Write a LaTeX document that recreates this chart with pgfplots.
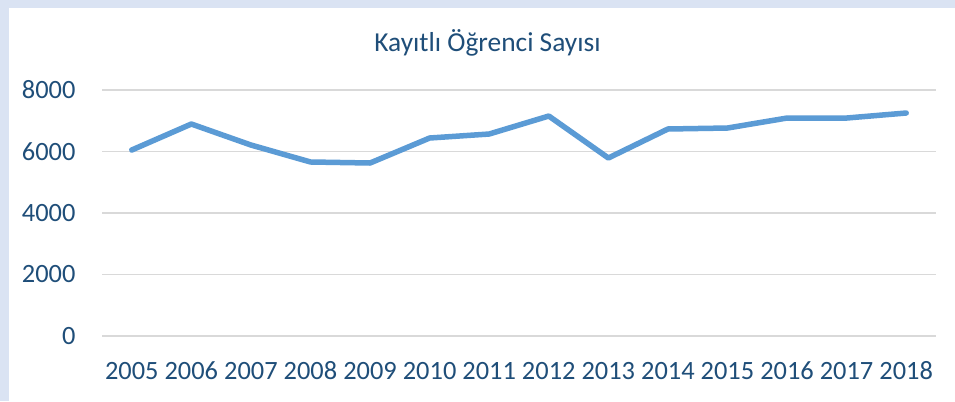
\documentclass[border=0pt]{standalone}
\usepackage{fontspec}
\setmainfont{Carlito}
\usepackage{pgfplots}
\pgfplotsset{compat=1.18}
\definecolor{framebg}{HTML}{DAE3F3}
\definecolor{txt}{HTML}{1F4E79}
\definecolor{ln}{HTML}{5B9BD5}
\definecolor{grd}{HTML}{D9D9D9}
\begin{document}
\begin{tikzpicture}[x=1bp,y=1bp]
\fill[framebg] (0,0) rectangle (955,401);
\fill[white] (9,0) rectangle (955,393);
\useasboundingbox (0,0) rectangle (955,401);
\begin{axis}[
  at={(102bp,65bp)}, anchor=south west,
  scale only axis, width=834bp, height=246bp,
  xmin=2004.5, xmax=2018.5, ymin=0, ymax=8000,
  xtick={2005,...,2018}, ytick={0,2000,4000,6000,8000},
  axis line style={draw=none}, major tick length=0pt,
  ymajorgrids, grid style={grd, line width=1.5bp},
  /pgf/number format/assume math mode=true,
  /pgf/number format/1000 sep={},
  ticklabel style={font=\fontsize{26.5}{30}\selectfont, text=txt},
  yticklabel style={xshift=-23bp},
  xticklabel style={anchor=base, yshift=-43bp},
  clip=false,
]
\addplot[ln, line width=5.5bp, line join=round, line cap=round] coordinates {
(2005,6049) (2006,6894) (2007,6211) (2008,5659) (2009,5626) (2010,6439) (2011,6569)
(2012,7154) (2013,5789) (2014,6732) (2015,6764) (2016,7089) (2017,7089) (2018,7252)};
\end{axis}
\node[text=txt, font=\fontsize{27.5}{32}\selectfont, anchor=base] at (487.5,350) {Kayıtlı Öğrenci Sayısı};
\end{tikzpicture}
\end{document}
